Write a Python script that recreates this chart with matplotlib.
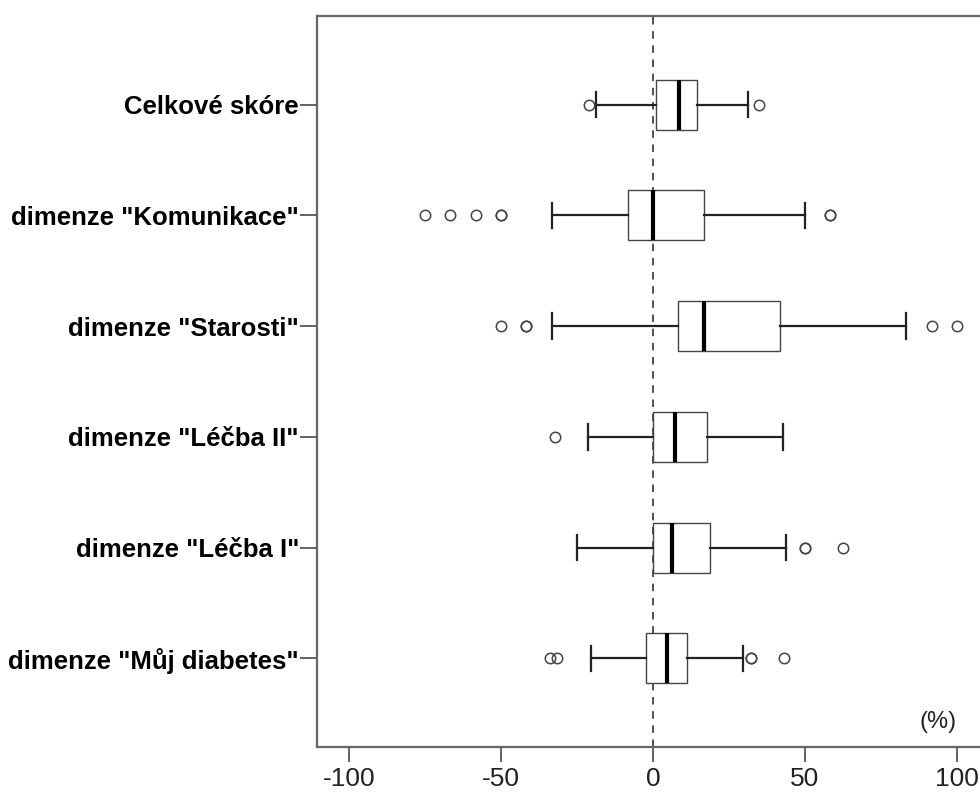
import matplotlib
matplotlib.use("Agg")
import matplotlib.pyplot as plt

plt.rcParams['font.family'] = ['Liberation Sans', 'DejaVu Sans']

categories = ['Celkové skóre', 'dimenze "Komunikace"', 'dimenze "Starosti"',
              'dimenze "Léčba II"', 'dimenze "Léčba I"', 'dimenze "Můj diabetes"']
whisker_low = [-18.7, -33.3, -33.3, -21.4, -25.0, -20.4]
q1 = [1.0, -8.3, 8.3, 0.0, 0.0, -2.3]
median = [8.7, 0.0, 16.7, 7.1, 6.25, 4.7]
q3 = [14.4, 16.7, 41.7, 17.9, 18.75, 11.3]
whisker_high = [31.1, 50.0, 83.3, 42.9, 43.75, 29.5]
outliers = [
    [-21.0, 34.7],
    [-75.0, -66.7, -58.3, -50.0, -50.0, 58.3, 58.3],
    [-50.0, -41.7, -41.7, 91.7, 100.0],
    [-32.1],
    [50.0, 50.0, 62.5],
    [-33.8, -31.5, 32.1, 32.1, 43.2],
]
xticks = [-100, -50, 0, 50, 100]

fig = plt.figure(figsize=(9.8, 7.92), dpi=100)
ax = fig.add_axes([317 / 980, 1 - 747 / 792, 672 / 980, 731 / 792])

n = len(categories)
positions = list(range(n, 0, -1))
stats = []
for i in range(n):
    stats.append(dict(whislo=whisker_low[i], q1=q1[i], med=median[i], q3=q3[i],
                      whishi=whisker_high[i], fliers=outliers[i], label=categories[i]))

ax.axvline(0, color='#333333', lw=1.2, ls=(0, (4.5, 4)), zorder=1)

ax.bxp(stats, positions=positions, vert=False, widths=0.45, capwidths=0.23,
       patch_artist=True,
       boxprops=dict(facecolor='white', edgecolor='#444444', linewidth=1.0),
       medianprops=dict(color='black', linewidth=3.0),
       whiskerprops=dict(color='#222222', linewidth=1.6),
       capprops=dict(color='#222222', linewidth=1.6),
       flierprops=dict(marker='o', markersize=7.5, markerfacecolor='none',
                       markeredgecolor='#444444', markeredgewidth=1.1),
       zorder=3)

ax.set_xlim(-110.5, 110.5)
ax.set_ylim(0.2, n + 0.8)
ax.set_xticks(xticks)
ax.set_xticklabels([str(t) for t in xticks])
ax.set_yticks(positions)
ax.set_yticklabels(categories, fontweight='bold', fontsize=18.5)

for s in ax.spines.values():
    s.set_color('#666666')
    s.set_linewidth(1.6)

ax.tick_params(axis='x', length=11, width=1.3, color='#555555', labelsize=19,
               pad=3.5, labelcolor='#222222')
ax.tick_params(axis='y', length=12, width=1.3, color='#555555', pad=1,
               labelcolor='black')

ax.text(93.8, 0.43, '(%)', fontsize=17, ha='center', va='center', color='#222222')

fig.savefig('out.png', dpi=100)
